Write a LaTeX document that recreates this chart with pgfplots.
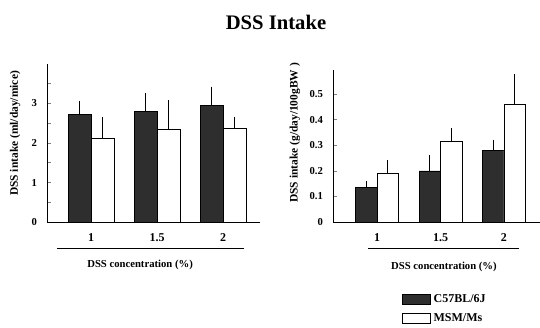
\documentclass[border=0pt]{standalone}
\usepackage{fontspec}
\setmainfont{Liberation Serif}
\usepackage{pgfplots}
\pgfplotsset{compat=1.18}
\definecolor{darkbar}{gray}{0.18}
\pgfplotsset{
  dssaxis/.style={
    scale only axis,
    axis x line=bottom, axis y line=left,
    axis line style={-, line width=0.6pt},
    ybar=0pt,
    clip=false,
    ymin=0,
    xtick={1,2,3}, xticklabels={1,1.5,2},
    xtick style={draw=none},
    tick align=inside,
    major tick length=3pt, minor tick length=3pt,
    ytick style={line width=0.5pt},
    minor tick style={line width=0.5pt},
    /pgf/number format/assume math mode=true,
    tick label style={font=\fontsize{8}{9}\selectfont\bfseries},
    xticklabel style={yshift=-5pt, font=\fontsize{9}{10}\selectfont\bfseries},
    yticklabel style={xshift=-4pt},
    xlabel style={font=\fontsize{8}{9}\selectfont\bfseries},
    ylabel style={font=\fontsize{8.6}{10}\selectfont\bfseries},
    error bars/error bar style={line width=0.6pt},
    error bars/error mark options={line width=0.6pt, mark size=2.5pt},
  },
  blackbar/.style={fill=darkbar, draw=black, line width=0.5pt,
    error bars/.cd, y dir=plus, y explicit},
  whitebar/.style={fill=white, draw=black, line width=0.6pt,
    error bars/.cd, y dir=plus, y explicit},
}
\begin{document}
\begin{tikzpicture}
\useasboundingbox (0pt,0pt) rectangle (405pt,246pt);
% title
\node[font=\fontsize{15.5}{17}\selectfont\bfseries] at (207pt,229.5pt) {DSS Intake};

% left panel
\begin{axis}[dssaxis,
  at={(35.25pt,79.5pt)}, anchor=south west,
  width=159.75pt, height=118.5pt,
  xmin=0.333, xmax=3.56,
  ymax=4.0,
  bar width=17.25pt,
  ytick={0,1,2,3}, minor ytick={0.5,1.5,2.5,3.5},
  xlabel={DSS concentration (\%)},
  xlabel style={at={(axis description cs:0.437,-0.272)}, anchor=center},
  ylabel={DSS intake (ml/day/mice)},
  ylabel style={at={(axis description cs:-0.150,0.560)}, anchor=center},
]
\addplot[blackbar] coordinates {(1,2.73) +- (0,0.25) (2,2.80) +- (0,0.37) (3,2.96) +- (0,0.38)};
\addplot[whitebar] coordinates {(1,2.12) +- (0,0.46) (2,2.35) +- (0,0.65) (3,2.37) +- (0,0.21)};
\end{axis}

% right panel
\begin{axis}[dssaxis,
  at={(249.75pt,79.5pt)}, anchor=south west,
  width=155.25pt, height=114pt,
  xmin=0.307, xmax=3.567,
  ymax=0.595,
  bar width=16.1pt,
  ytick={0,0.1,0.2,0.3,0.4,0.5},
  xlabel={DSS concentration (\%)},
  xlabel style={at={(axis description cs:0.536,-0.296)}, anchor=center},
  ylabel={DSS intake (g/day/100gBW )},
  ylabel style={at={(axis description cs:-0.184,0.586)}, anchor=center},
  legend style={at={(axis description cs:0.333,-0.455)}, anchor=north west,
    draw=none, fill=none, inner sep=0pt, row sep=3pt,
    font=\fontsize{9}{10}\selectfont\bfseries,
    /tikz/every even column/.append style={column sep=5pt}},
  legend cell align=left,
  legend image code/.code={\draw[#1] (0pt,-3.75pt) rectangle (21pt,3.75pt);},
]
\addplot[blackbar] coordinates {(1,0.135) +- (0,0.012) (2,0.20) +- (0,0.05) (3,0.281) +- (0,0.027)};
\addplot[whitebar] coordinates {(1,0.19) +- (0,0.04) (2,0.314) +- (0,0.041) (3,0.46) +- (0,0.105)};
\legend{C57BL/6J, MSM/Ms}
\end{axis}

% rules under the category labels
\draw[line width=0.6pt] (42.75pt,60pt) -- (183pt,60pt);
\draw[line width=0.6pt] (276pt,60pt) -- (389.25pt,60pt);
\end{tikzpicture}
\end{document}
